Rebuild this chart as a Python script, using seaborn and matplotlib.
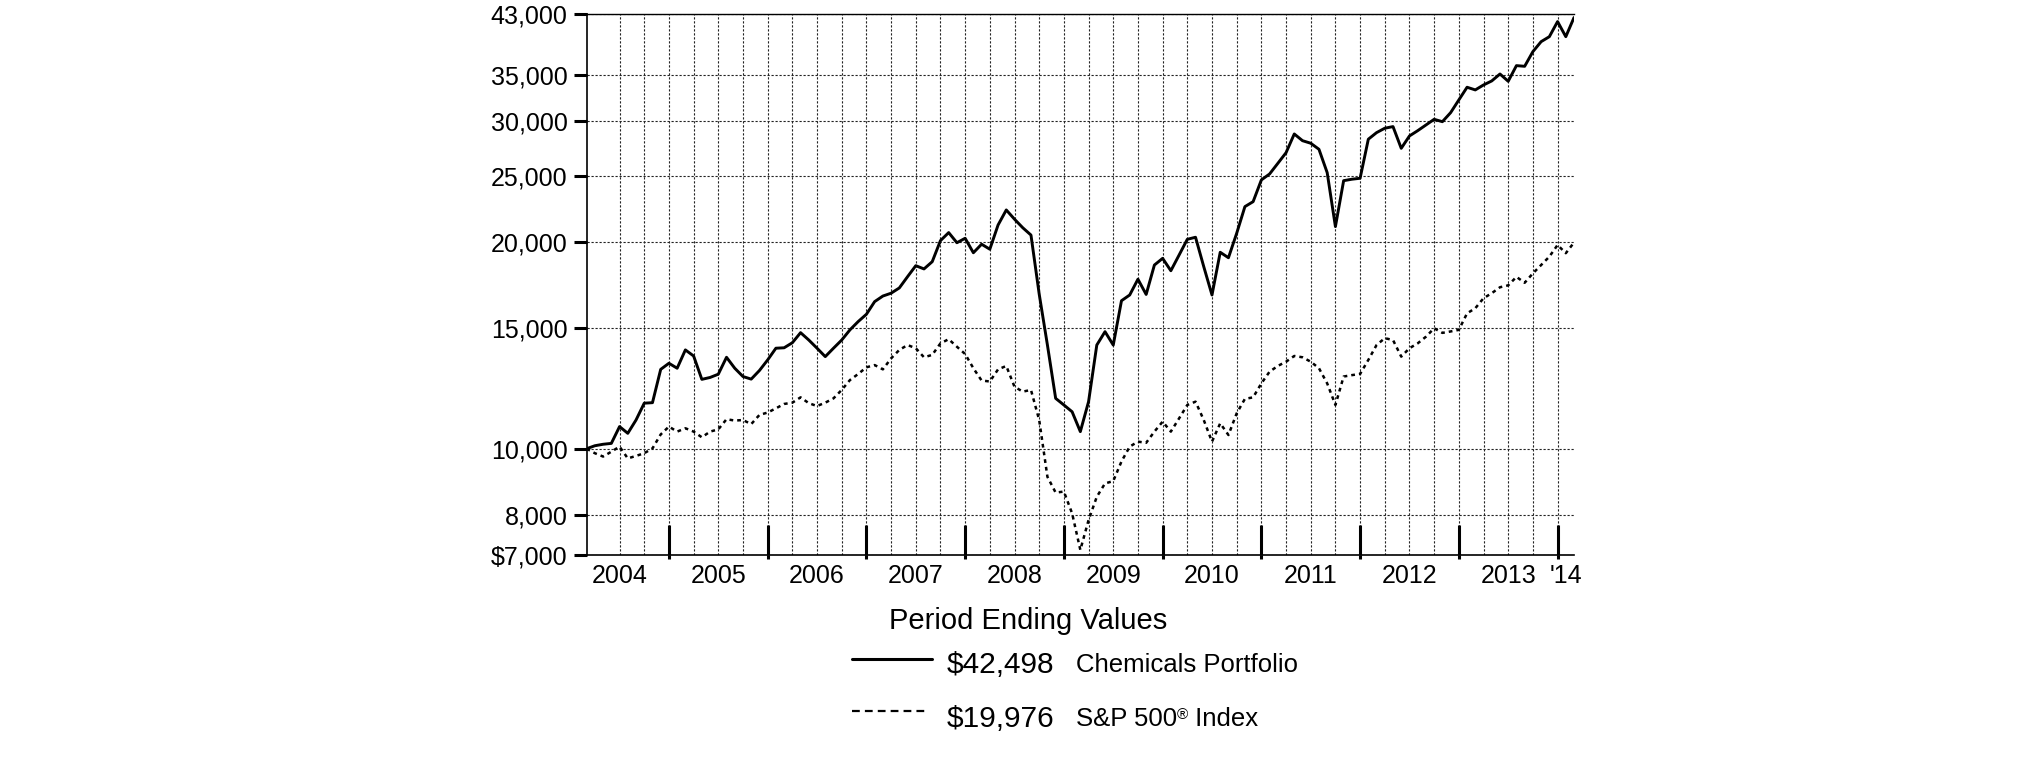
import numpy as np
import pandas as pd
import matplotlib.pyplot as plt
import seaborn as sns
from matplotlib.lines import Line2D
from matplotlib.ticker import FixedLocator, NullLocator, NullFormatter
from matplotlib.transforms import blended_transform_factory

# ==============================
# DATA (month-end values, Feb 2004 .. Feb 2014, $10,000 start)
# ==============================
months = pd.date_range("2004-02-29", periods=121, freq="ME")

chemicals = [
    10000, 10100, 10150, 10180, 10770, 10530, 11010, 11650, 11670, 13050,
    13320, 13100, 13930, 13650, 12620, 12700, 12840, 13590, 13100, 12740,
    12630, 13000, 13470, 14010, 14030, 14270, 14760, 14400, 14010, 13620,
    14010, 14400, 14900, 15320, 15700, 16380, 16690, 16850, 17150, 17810,
    18480, 18280, 18730, 20100, 20650, 19960, 20260, 19300, 19860, 19530,
    21180, 22280, 21600, 20990, 20480, 16800, 14160, 11840, 11580, 11320,
    10590, 11710, 14160, 14810, 14160, 16430, 16750, 17660, 16780, 18520,
    18940, 18170, 19150, 20190, 20330, 18420, 16750, 19330, 18980, 20600,
    22530, 22910, 24640, 25140, 26050, 27000, 28750, 28110, 27870, 27310,
    25250, 21070, 24580, 24700, 24780, 28250, 28880, 29310, 29470, 27400,
    28560, 29070, 29630, 30200, 29960, 30880, 32230, 33630, 33330, 33890,
    34350, 35160, 34310, 36160, 36080, 37900, 39190, 39850, 41920, 39850,
    42498,
]

sp500 = [
    10000, 9850, 9740, 9900, 10070, 9680, 9760, 9850, 10010, 10490,
    10770, 10590, 10710, 10590, 10390, 10590, 10670, 11040, 10990, 11010,
    10860, 11200, 11290, 11450, 11620, 11670, 11880, 11650, 11540, 11670,
    11840, 12180, 12590, 12850, 13140, 13240, 13050, 13540, 13930, 14160,
    14010, 13590, 13700, 14240, 14440, 14080, 13740, 13100, 12570, 12530,
    13050, 13200, 12310, 12110, 12180, 11010, 9100, 8630, 8660, 8050,
    7120, 7870, 8510, 8900, 8970, 9580, 10070, 10240, 10200, 10590,
    10950, 10590, 11070, 11580, 11710, 11010, 10240, 10890, 10470, 11260,
    11820, 11880, 12450, 12950, 13200, 13390, 13650, 13590, 13390, 13100,
    12450, 11580, 12740, 12800, 12850, 13470, 14160, 14490, 14400, 13620,
    14010, 14240, 14560, 14980, 14750, 14820, 14900, 15750, 16020, 16570,
    16850, 17190, 17300, 17800, 17450, 18010, 18520, 19050, 19810, 19270,
    19976,
]

y_ticks = [7000, 8000, 10000, 15000, 20000, 25000, 30000, 35000, 43000]
y_labels = ["$7,000", "8,000", "10,000", "15,000", "20,000", "25,000",
            "30,000", "35,000", "43,000"]
year_labels = ["2004", "2005", "2006", "2007", "2008", "2009", "2010",
               "2011", "2012", "2013", "'14"]

legend_values = ["$42,498", "$19,976"]
legend_names = ["Chemicals Portfolio", "S&P 500"]

# month index from the first period end
month_idx = (months.year - 2004) * 12 + months.month - 2
df = pd.DataFrame({"month": month_idx, "chem": chemicals, "sp": sp500})

year_ends = [m for m, d in zip(month_idx, months) if d.month == 12]
quarters = [m for m, d in zip(month_idx, months) if d.month % 3 == 0 and m > 2]
# label positions: middle of each year block, partial blocks at the ends
label_pos = [4] + [e + 6 for e in year_ends[:-1]] + [(year_ends[-1] + month_idx[-1]) / 2]

# ==============================
# STYLE
# ==============================
sns.set_style("white")
plt.rcParams["font.family"] = ["Liberation Sans", "DejaVu Sans"]
plt.rcParams["text.color"] = "black"

fig = plt.figure(figsize=(20.25, 7.61), dpi=100)
ax = fig.add_axes([0.2897, 0.2707, 0.7773 - 0.2897, 0.9816 - 0.2707])

sp_dash = (1.5, 1.6)
sns.lineplot(data=df, x="month", y="sp", ax=ax, color="black", lw=1.8,
             zorder=3)
ax.lines[-1].set_dashes(sp_dash)
sns.lineplot(data=df, x="month", y="chem", ax=ax, color="black", lw=2.1,
             zorder=4)

ax.set_yscale("log")
ax.set_ylim(7000, 43000)
ax.set_xlim(0, 120)
ax.yaxis.set_major_locator(FixedLocator(y_ticks))
ax.yaxis.set_minor_locator(NullLocator())
ax.set_yticklabels(y_labels)
ax.yaxis.set_minor_formatter(NullFormatter())

ax.set_xticks(year_ends)
ax.set_xticklabels([])
ax.set_xticks(quarters, minor=True)
ax.set_xlabel("")
ax.set_ylabel("")

ax.tick_params(axis="y", which="major", left=True, direction="out",
               length=9.4, width=2.2, pad=4.3, labelsize=18, colors="black")
ax.tick_params(axis="x", which="major", bottom=True, direction="in",
               length=21.5, width=2.2, colors="black")
ax.tick_params(axis="x", which="minor", bottom=False, length=0)

grid_kw = dict(color="#222222", lw=0.8, linestyle=(0, (2, 1.6)))
ax.grid(True, axis="x", which="both", **grid_kw)
ax.grid(True, axis="y", which="major", **grid_kw)
ax.set_axisbelow(True)

for side in ["left", "top", "bottom"]:
    ax.spines[side].set_visible(True)
    ax.spines[side].set_color("black")
ax.spines["left"].set_linewidth(1.2)
ax.spines["top"].set_linewidth(1.0)
ax.spines["bottom"].set_linewidth(1.2)
ax.spines["right"].set_visible(False)

# small outward stub of the year ticks
sec = ax.secondary_xaxis("bottom")
sec.set_xticks(year_ends)
sec.set_xticklabels([])
sec.tick_params(bottom=True, direction="out", length=3, width=2.2,
                colors="black")
sec.spines["bottom"].set_visible(False)

# year labels
trans = blended_transform_factory(ax.transData, fig.transFigure)
for pos, lab in zip(label_pos, year_labels):
    ax.text(pos, 0.2339, lab, transform=trans, ha="center", va="baseline",
            fontsize=18, color="black")

# ==============================
# LEGEND BLOCK
# ==============================
fig.text(889 / 2025, 0.1731, "Period Ending Values", fontsize=21,
         ha="left", va="baseline")

fig.add_artist(Line2D([852 / 2025, 932 / 2025], [0.1340, 0.1340],
                      transform=fig.transFigure, color="black", lw=2.2))
fig.add_artist(Line2D([852 / 2025, 928 / 2025], [0.0661, 0.0661],
                      transform=fig.transFigure, color="black", lw=1.6,
                      dashes=(3.5, 2.3)))

fig.text(947 / 2025, 0.1152, legend_values[0], fontsize=21.5, va="baseline")
fig.text(1075.5 / 2025, 0.1165, legend_names[0], fontsize=18.5, va="baseline")
fig.text(947 / 2025, 0.0451, legend_values[1], fontsize=21.5, va="baseline")
t1 = fig.text(1075.5 / 2025, 0.0464, legend_names[1], fontsize=18.5,
              va="baseline")
t2 = ax.annotate("\u00ae", xy=(1, 0.95), xycoords=t1, ha="left", va="top",
                 fontsize=11, annotation_clip=False)
ax.annotate(" Index", xy=(1, 0), xycoords=(t2, t1), ha="left", va="bottom",
            fontsize=18.5, annotation_clip=False)

plt.savefig("out.png", dpi=100)
plt.close()
